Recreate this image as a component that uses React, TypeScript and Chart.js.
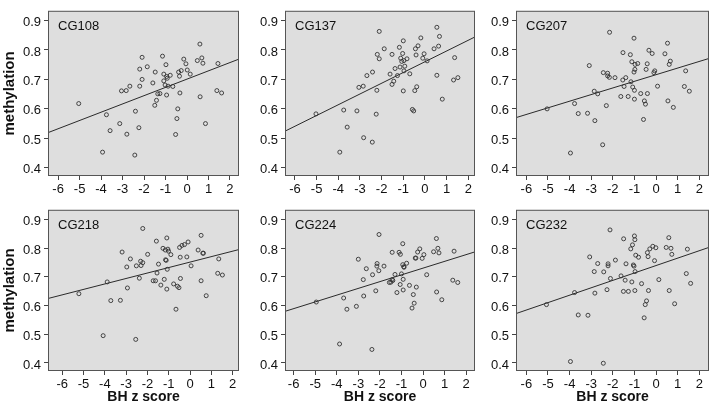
import React, { useEffect, useRef } from "react";
import { Chart, registerables } from "chart.js";

Chart.register(...registerables);

const X_TICKS = [-6, -5, -4, -3, -2, -1, 0, 1, 2];
const Y_TICKS = [0.4, 0.5, 0.6, 0.7, 0.8, 0.9];
const Y_RANGE = [0.372, 0.933];
const X_LABEL = "BH z score";
const Y_LABEL = "methylation";

const CG108_POINTS = [
  [-5.04, 0.618], [-3.75, 0.58], [-3.93, 0.453], [-3.58, 0.526], [-3.13, 0.55], [-2.8, 0.514],
  [-3.05, 0.661], [-2.83, 0.662], [-2.66, 0.677], [-2.4, 0.592], [-2.43, 0.443], [-2.24, 0.536],
  [-2.2, 0.735], [-2.2, 0.677], [-2.09, 0.7], [-2.09, 0.775], [-1.85, 0.743], [-1.59, 0.688],
  [-1.48, 0.725], [-1.5, 0.612], [-1.42, 0.629], [-1.36, 0.651], [-1.26, 0.652], [-1.14, 0.779],
  [-1.08, 0.718], [-1.08, 0.695], [-1.02, 0.681], [-0.98, 0.75], [-0.95, 0.71], [-0.92, 0.704],
  [-0.95, 0.647], [-0.88, 0.677], [-0.78, 0.714], [-0.66, 0.676], [-0.53, 0.513], [-0.47, 0.567],
  [-0.43, 0.6], [-0.39, 0.725], [-0.35, 0.711], [-0.33, 0.654], [-0.27, 0.73], [-0.15, 0.769],
  [-0.05, 0.753], [0.01, 0.732], [0.15, 0.718], [0.48, 0.764], [0.6, 0.82], [0.61, 0.641],
  [0.69, 0.773], [0.74, 0.755], [0.86, 0.55], [1.39, 0.662], [1.44, 0.754], [1.61, 0.654],
];
const CG108_FIT = [0.701, 0.0281];
const CG108_XRANGE = [-6.47, 2.42];

const CG137_POINTS = [
  [-5.03, 0.583], [-3.75, 0.596], [-3.93, 0.453], [-3.59, 0.538], [-3.14, 0.593], [-3.05, 0.673],
  [-2.85, 0.677], [-2.83, 0.502], [-2.68, 0.713], [-2.43, 0.487], [-2.42, 0.725], [-2.25, 0.582],
  [-2.22, 0.663], [-2.2, 0.785], [-2.11, 0.863], [-2.11, 0.77], [-1.88, 0.804], [-1.61, 0.718],
  [-1.52, 0.785], [-1.52, 0.683], [-1.44, 0.694], [-1.38, 0.737], [-1.27, 0.713], [-1.18, 0.809],
  [-1.15, 0.742], [-1.12, 0.772], [-1.07, 0.761], [-1.0, 0.831], [-1.03, 0.788], [-0.97, 0.764],
  [-0.97, 0.729], [-1.0, 0.661], [-0.93, 0.745], [-0.83, 0.77], [-0.7, 0.719], [-0.58, 0.598],
  [-0.52, 0.593], [-0.47, 0.662], [-0.44, 0.804], [-0.41, 0.783], [-0.38, 0.675], [-0.32, 0.814],
  [-0.19, 0.841], [-0.1, 0.772], [-0.04, 0.787], [0.1, 0.763], [0.42, 0.804], [0.55, 0.877],
  [0.55, 0.714], [0.63, 0.813], [0.67, 0.846], [0.8, 0.633], [1.32, 0.698], [1.37, 0.774], [1.52, 0.706],
];
const CG137_FIT = [0.76, 0.0365];
const CG137_XRANGE = [-6.46, 2.31];

const CG207_POINTS = [
  [-5.04, 0.6], [-3.77, 0.618], [-3.96, 0.45], [-3.6, 0.584], [-3.17, 0.585], [-3.09, 0.747],
  [-2.86, 0.66], [-2.83, 0.56], [-2.7, 0.651], [-2.47, 0.478], [-2.44, 0.723], [-2.3, 0.611],
  [-2.24, 0.721], [-2.24, 0.712], [-2.16, 0.707], [-2.15, 0.86], [-1.9, 0.706], [-1.63, 0.642],
  [-1.54, 0.698], [-1.53, 0.791], [-1.48, 0.676], [-1.4, 0.706], [-1.29, 0.642], [-1.19, 0.784],
  [-1.16, 0.692], [-1.12, 0.76], [-1.08, 0.674], [-1.02, 0.84], [-1.02, 0.725], [-1.0, 0.663],
  [-1.0, 0.633], [-0.98, 0.734], [-0.97, 0.751], [-0.85, 0.754], [-0.71, 0.652], [-0.58, 0.564],
  [-0.54, 0.627], [-0.49, 0.616], [-0.46, 0.734], [-0.41, 0.753], [-0.4, 0.652], [-0.33, 0.799],
  [-0.18, 0.788], [-0.1, 0.723], [-0.06, 0.729], [0.07, 0.677], [0.41, 0.787], [0.53, 0.823],
  [0.55, 0.627], [0.61, 0.751], [0.66, 0.762], [0.8, 0.605], [1.31, 0.676], [1.37, 0.729], [1.54, 0.66],
];
const CG207_FIT = [0.716, 0.0225];
const CG207_XRANGE = [-6.48, 2.45];

const CG218_POINTS = [
  [-5.22, 0.641], [-3.89, 0.682], [-4.08, 0.495], [-3.72, 0.617], [-3.27, 0.618], [-3.19, 0.786],
  [-2.97, 0.734], [-2.94, 0.661], [-2.8, 0.762], [-2.55, 0.482], [-2.52, 0.738], [-2.38, 0.695],
  [-2.32, 0.754], [-2.3, 0.739], [-2.22, 0.749], [-2.22, 0.868], [-1.99, 0.778], [-1.73, 0.686],
  [-1.62, 0.686], [-1.58, 0.824], [-1.55, 0.713], [-1.48, 0.744], [-1.37, 0.671], [-1.27, 0.799],
  [-1.21, 0.691], [-1.16, 0.793], [-1.15, 0.759], [-1.12, 0.757], [-1.09, 0.835], [-1.07, 0.726],
  [-1.09, 0.657], [-1.04, 0.796], [-1.01, 0.789], [-0.9, 0.777], [-0.77, 0.675], [-0.66, 0.587],
  [-0.59, 0.667], [-0.52, 0.662], [-0.49, 0.802], [-0.46, 0.768], [-0.45, 0.694], [-0.38, 0.809],
  [-0.26, 0.812], [-0.15, 0.769], [-0.09, 0.821], [0.05, 0.738], [0.38, 0.793], [0.52, 0.844],
  [0.52, 0.686], [0.6, 0.782], [0.63, 0.782], [0.76, 0.634], [1.3, 0.712], [1.35, 0.762], [1.52, 0.706],
];
const CG218_FIT = [0.751, 0.019];
const CG218_XRANGE = [-6.67, 2.3];

const CG224_POINTS = [
  [-4.95, 0.612], [-3.68, 0.626], [-3.87, 0.466], [-3.53, 0.587], [-3.09, 0.597], [-3.0, 0.761],
  [-2.77, 0.69], [-2.75, 0.633], [-2.63, 0.728], [-2.37, 0.447], [-2.34, 0.707], [-2.19, 0.651],
  [-2.13, 0.746], [-2.14, 0.737], [-2.05, 0.721], [-2.04, 0.847], [-1.81, 0.737], [-1.56, 0.68],
  [-1.49, 0.681], [-1.43, 0.785], [-1.43, 0.69], [-1.4, 0.687], [-1.3, 0.708], [-1.21, 0.645],
  [-1.11, 0.785], [-1.06, 0.673], [-1.05, 0.778], [-1.0, 0.71], [-0.94, 0.742], [-0.94, 0.815],
  [-0.92, 0.691], [-0.92, 0.654], [-0.89, 0.735], [-0.88, 0.733], [-0.76, 0.747], [-0.63, 0.67],
  [-0.51, 0.591], [-0.45, 0.638], [-0.41, 0.608], [-0.36, 0.765], [-0.33, 0.765], [-0.31, 0.664],
  [-0.25, 0.786], [-0.15, 0.797], [-0.04, 0.764], [0.04, 0.777], [0.17, 0.707], [0.49, 0.787],
  [0.62, 0.833], [0.63, 0.647], [0.69, 0.799], [0.74, 0.783], [0.87, 0.62], [1.38, 0.688], [1.44, 0.789], [1.61, 0.68],
];
const CG224_FIT = [0.73, 0.0235];
const CG224_XRANGE = [-6.4, 2.41];

const CG232_POINTS = [
  [-5.07, 0.603], [-3.77, 0.645], [-3.96, 0.405], [-3.6, 0.567], [-3.15, 0.566], [-3.07, 0.769],
  [-2.86, 0.718], [-2.83, 0.643], [-2.7, 0.746], [-2.44, 0.399], [-2.42, 0.717], [-2.27, 0.655],
  [-2.22, 0.745], [-2.22, 0.738], [-2.13, 0.863], [-2.11, 0.694], [-1.88, 0.758], [-1.62, 0.703],
  [-1.51, 0.649], [-1.5, 0.832], [-1.43, 0.688], [-1.39, 0.745], [-1.28, 0.649], [-1.17, 0.797],
  [-1.12, 0.682], [-1.09, 0.811], [-1.05, 0.741], [-1.02, 0.737], [-1.0, 0.842], [-0.98, 0.652],
  [-0.98, 0.829], [-0.97, 0.718], [-0.94, 0.775], [-0.81, 0.768], [-0.67, 0.676], [-0.55, 0.557],
  [-0.5, 0.603], [-0.44, 0.616], [-0.4, 0.784], [-0.37, 0.77], [-0.35, 0.652], [-0.29, 0.797],
  [-0.15, 0.806], [-0.07, 0.756], [-0.01, 0.801], [0.13, 0.69], [0.47, 0.802], [0.59, 0.836],
  [0.61, 0.652], [0.69, 0.799], [0.73, 0.778], [0.86, 0.606], [1.4, 0.711], [1.45, 0.796], [1.6, 0.677],
];
const CG232_FIT = [0.739, 0.0258];
const CG232_XRANGE = [-6.48, 2.45];

type PanelDef = {
  name: string;
  points: number[][];
  fit: number[];
  xRange: number[];
  col: number;
  row: number;
};

const PANELS: PanelDef[] = [
  { name: "CG108", points: CG108_POINTS, fit: CG108_FIT, xRange: CG108_XRANGE, col: 0, row: 0 },
  { name: "CG137", points: CG137_POINTS, fit: CG137_FIT, xRange: CG137_XRANGE, col: 1, row: 0 },
  { name: "CG207", points: CG207_POINTS, fit: CG207_FIT, xRange: CG207_XRANGE, col: 2, row: 0 },
  { name: "CG218", points: CG218_POINTS, fit: CG218_FIT, xRange: CG218_XRANGE, col: 0, row: 1 },
  { name: "CG224", points: CG224_POINTS, fit: CG224_FIT, xRange: CG224_XRANGE, col: 1, row: 1 },
  { name: "CG232", points: CG232_POINTS, fit: CG232_FIT, xRange: CG232_XRANGE, col: 2, row: 1 },
];

// layout (pixels)
const COLS = [
  { left: 0, plotLeft: 48, plotRight: 239, right: 241 },
  { left: 241, plotLeft: 285, plotRight: 475, right: 478 },
  { left: 478, plotLeft: 516, plotRight: 709, right: 709 },
];
const ROWS = [
  { top: 0, plotTop: 0, plotBottom: 176, bottom: 199 },
  { top: 199, plotTop: 200, plotBottom: 371, bottom: 410 },
];

const FONT = "'Liberation Sans', Arial, sans-serif";

function makeBoxPlugin(name: string) {
  return {
    id: "panelBox",
    beforeDraw(chart: any) {
      const { ctx, chartArea: a } = chart;
      ctx.save();
      ctx.fillStyle = "#dedede";
      ctx.fillRect(a.left, a.top, a.right - a.left, a.bottom - a.top);
      ctx.fillStyle = "#111";
      ctx.font = `13px ${FONT}`;
      ctx.textBaseline = "middle";
      ctx.textAlign = "left";
      ctx.fillText(name, a.left + 10, a.top + 16);
      ctx.restore();
    },
    afterDraw(chart: any) {
      const { ctx, chartArea: a } = chart;
      ctx.save();
      ctx.strokeStyle = "#555";
      ctx.lineWidth = 1;
      ctx.strokeRect(a.left + 0.5, a.top + 0.5, a.right - a.left - 1, a.bottom - a.top - 1);
      ctx.restore();
    },
  };
}

function PanelChart({ panel }: { panel: PanelDef }) {
  const ref = useRef<HTMLCanvasElement>(null);
  const col = COLS[panel.col];
  const row = ROWS[panel.row];
  const w = col.right - col.left;
  const h = row.bottom - row.top;

  useEffect(() => {
    const [a, b] = panel.fit;
    const [x0, x1] = panel.xRange;
    const showYTitle = panel.col === 0;
    const showXTitle = panel.row === 1;
    const chart = new Chart(ref.current as HTMLCanvasElement, {
      type: "scatter",
      data: {
        datasets: [
          {
            data: [
              { x: x0, y: a + b * x0 },
              { x: x1, y: a + b * x1 },
            ],
            showLine: true,
            borderColor: "#2a2a2a",
            borderWidth: 1,
            pointRadius: 0,
            order: 1,
          },
          {
            data: panel.points.map(([x, y]) => ({ x, y })),
            pointRadius: 2,
            pointBorderWidth: 0.9,
            pointBorderColor: "#333",
            pointBackgroundColor: "rgba(0,0,0,0)",
            showLine: false,
            order: 0,
          },
        ],
      } as any,
      options: {
        responsive: false,
        animation: false,
        devicePixelRatio: 1,
        layout: {
          autoPadding: false,
          padding: {
            top: row.plotTop - row.top,
            right: col.right - col.plotRight,
            left: 0,
            bottom: 0,
          },
        },
        plugins: {
          legend: { display: false },
          tooltip: { enabled: false },
          title: { display: false },
        },
        scales: {
          x: {
            type: "linear",
            min: x0,
            max: x1,
            afterBuildTicks: (s: any) => {
              s.ticks = X_TICKS.map((v) => ({ value: v }));
            },
            afterFit: (s: any) => {
              s.height = row.bottom - row.plotBottom;
            },
            grid: { display: true, drawOnChartArea: false, drawTicks: true, tickLength: 4, color: "#444" },
            border: { display: false },
            ticks: {
              padding: 2,
              color: "#111",
              font: { family: FONT, size: 13 },
              maxRotation: 0,
              autoSkip: false,
              callback: (v: any) => String(v),
            },
            title: {
              display: showXTitle,
              text: X_LABEL,
              color: "#111",
              font: { family: FONT, size: 14, weight: "bold" },
              padding: { top: 0, bottom: 4 },
            },
          },
          y: {
            type: "linear",
            min: Y_RANGE[0],
            max: Y_RANGE[1],
            afterBuildTicks: (s: any) => {
              s.ticks = Y_TICKS.map((v) => ({ value: v }));
            },
            afterFit: (s: any) => {
              s.width = col.plotLeft - col.left;
            },
            grid: { display: true, drawOnChartArea: false, drawTicks: true, tickLength: 4, color: "#444" },
            border: { display: false },
            ticks: {
              padding: 3,
              color: "#111",
              labelOffset: 2,
              font: { family: FONT, size: 13 },
              autoSkip: false,
              callback: (v: any) => Number(v).toFixed(1),
            },
            title: {
              display: showYTitle,
              text: Y_LABEL,
              color: "#111",
              font: { family: FONT, size: 15, weight: "bold" },
              padding: { top: 1, bottom: 0 },
            },
          },
        },
      } as any,
      plugins: [makeBoxPlugin(panel.name)],
    });
    return () => chart.destroy();
  }, []);

  return (
    <canvas
      ref={ref}
      width={w}
      height={h}
      style={{ position: "absolute", left: col.left, top: row.top, width: w, height: h }}
    />
  );
}

export default function App() {
  return (
    <div
      style={{
        position: "absolute",
        left: 0,
        top: 0,
        width: 709,
        height: 410,
        background: "#fff",
        overflow: "hidden",
      }}
    >
      {PANELS.map((p) => (
        <PanelChart key={p.name} panel={p} />
      ))}
    </div>
  );
}
